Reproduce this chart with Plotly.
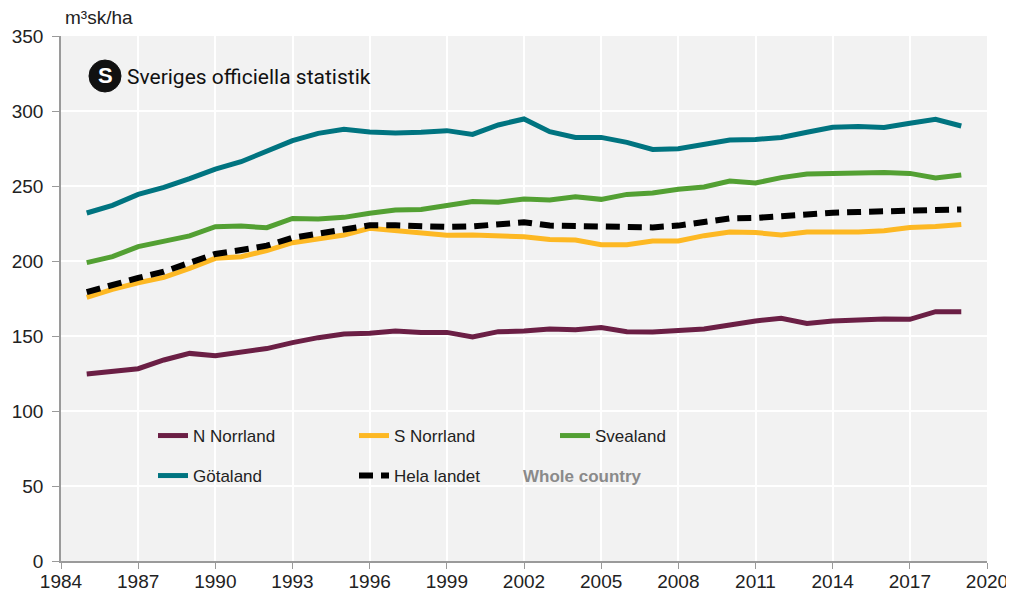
import plotly.graph_objects as go

# ── Data (m³sk/ha, standing volume per hectare) ──
years = list(range(1985, 2020))

n_norrland = [124.7, 126.7, 128.2, 134.0, 138.4, 136.9, 139.1, 141.6, 145.6, 148.9,
              151.3, 151.8, 153.3, 152.4, 152.4, 149.3, 152.9, 153.3, 154.7, 154.2,
              155.6, 152.9, 152.7, 153.8, 154.7, 157.3, 160.0, 161.8, 158.4, 160.0,
              160.7, 161.3, 161.1, 166.2, 166.2]

s_norrland = [175.8, 181.1, 185.5, 189.1, 195.1, 201.8, 202.9, 206.9, 212.2, 214.4,
              217.3, 221.8, 220.2, 218.4, 217.1, 217.3, 216.4, 216.2, 214.4, 214.0,
              210.9, 210.9, 213.3, 213.3, 216.9, 219.3, 219.0, 217.3, 219.3, 219.3,
              219.3, 220.2, 222.4, 223.0, 224.4]

svealand = [198.9, 202.9, 209.6, 212.9, 216.7, 222.9, 223.3, 222.2, 228.4, 228.0,
            229.1, 231.8, 234.0, 234.4, 236.7, 239.6, 239.1, 241.3, 240.7, 242.9,
            241.1, 244.4, 245.3, 247.8, 249.3, 253.3, 252.0, 255.6, 258.0, 258.4,
            258.9, 259.0, 258.4, 255.3, 257.3]

gotaland = [232.0, 237.1, 244.4, 249.1, 254.9, 261.3, 266.2, 273.3, 280.2, 285.1,
            287.8, 286.0, 285.3, 285.8, 286.9, 284.4, 290.7, 294.7, 286.2, 282.4,
            282.4, 279.1, 274.4, 274.9, 277.8, 280.7, 281.0, 282.4, 285.8, 289.1,
            289.6, 289.0, 291.8, 294.4, 290.0]

hela_landet = [179.3, 184.4, 188.7, 192.9, 198.4, 204.7, 207.3, 210.2, 215.5, 218.4,
               221.3, 223.8, 223.8, 222.9, 222.7, 223.1, 224.0, 225.8, 223.6, 223.1,
               222.4, 222.4, 222.4, 223.6, 226.0, 228.4, 228.7, 230.0, 231.3, 232.2,
               232.7, 233.3, 233.8, 234.7, 234.4]

x_ticks = list(range(1984, 2021, 3))
y_ticks = list(range(0, 351, 50))

FONT = "Liberation Sans, Arial, sans-serif"

# plot area in page pixels (page body has an 8px margin)
PL, PT, PW, PH = 61, 36, 926, 525


def px(x):
    return (x - PL) / PW


def py(y):
    return (PT + PH - y) / PH


fig = go.Figure()

# ── Series ──
series = [
    ("N Norrland", n_norrland, "#6b1f45", "solid", "legend"),
    ("S Norrland", s_norrland, "#fdb823", "solid", "legend"),
    ("Svealand", svealand, "#53a033", "solid", "legend"),
    ("Götaland", gotaland, "#007480", "solid", "legend2"),
    ("Hela landet", hela_landet, "#000000", "14px,8px", "legend2"),
]
for name, vals, color, dash, leg in series:
    fig.add_trace(go.Scatter(
        x=years, y=vals, mode="lines", name=name,
        line=dict(color=color, width=6 if dash != "solid" else 5, dash=dash),
        legend=leg,
    ))

# ── Logo ──
fig.add_shape(
    type="circle", xref="paper", yref="paper",
    xsizemode="pixel", ysizemode="pixel",
    xanchor=px(105), yanchor=py(76),
    x0=-16, x1=16, y0=-16, y1=16,
    fillcolor="#111111", line=dict(color="#111111", width=1),
)
fig.add_annotation(
    xref="paper", yref="paper", x=px(105), y=py(76),
    text="<b>S</b>", showarrow=False,
    font=dict(family=FONT, size=22, color="white"),
    xanchor="center", yanchor="middle",
)
fig.add_annotation(
    xref="paper", yref="paper", x=px(125), y=py(77),
    text="Sveriges officiella statistik", showarrow=False,
    font=dict(family="Roboto, sans-serif", size=21, color="#111111"),
    xanchor="left", yanchor="middle",
)

# ── Unit label ──
fig.add_annotation(
    xref="paper", yref="paper", x=px(63), y=1.0,
    yshift=6,
    text="m³sk/ha", showarrow=False,
    font=dict(family=FONT, size=19, color="#222222"),
    xanchor="left", yanchor="bottom",
)

# ── English note ──
fig.add_annotation(
    xref="paper", yref="paper", x=px(521), y=py(476),
    text="<b>Whole country</b>", showarrow=False,
    font=dict(family=FONT, size=17, color="#8a8a8a"),
    xanchor="left", yanchor="middle",
)

legend_common = dict(
    orientation="h", entrywidth=156, entrywidthmode="pixels",
    bgcolor="rgba(0,0,0,0)", font=dict(family=FONT, size=17, color="#222222"),
    xanchor="left", yanchor="middle", itemclick=False, itemdoubleclick=False,
    tracegroupgap=0,
)

fig.update_layout(
    width=1006, height=585,
    margin=dict(l=PL - 8, r=1006 - (PL - 8) - PW, t=PT - 8, b=585 - (PT - 8) - PH),
    paper_bgcolor="white",
    plot_bgcolor="#f2f2f2",
    font=dict(family=FONT, size=19, color="#222222"),
    showlegend=True,
    legend=dict(x=px(153), y=py(436), **legend_common),
    legend2=dict(x=px(153), y=py(476), **legend_common),
    xaxis=dict(
        range=[1984, 2020], tickvals=x_ticks, ticktext=[str(v) for v in x_ticks],
        showgrid=True, gridcolor="white", gridwidth=1.5,
        showline=True, linecolor="#9a9a9a", linewidth=1.5,
        ticks="outside", ticklen=6, tickcolor="#9a9a9a",
        zeroline=False, tickfont=dict(size=19), automargin=False,
        ticklabelstandoff=-4,
    ),
    yaxis=dict(
        range=[0, 350], tickvals=y_ticks,
        showgrid=True, gridcolor="white", gridwidth=1.5,
        showline=True, linecolor="#9a9a9a", linewidth=1.5,
        ticks="outside", ticklen=7, tickcolor="#9a9a9a",
        zeroline=False, tickfont=dict(size=19), ticklabelstandoff=5,
        automargin=False,
    ),
)

fig.write_html("out.html")
